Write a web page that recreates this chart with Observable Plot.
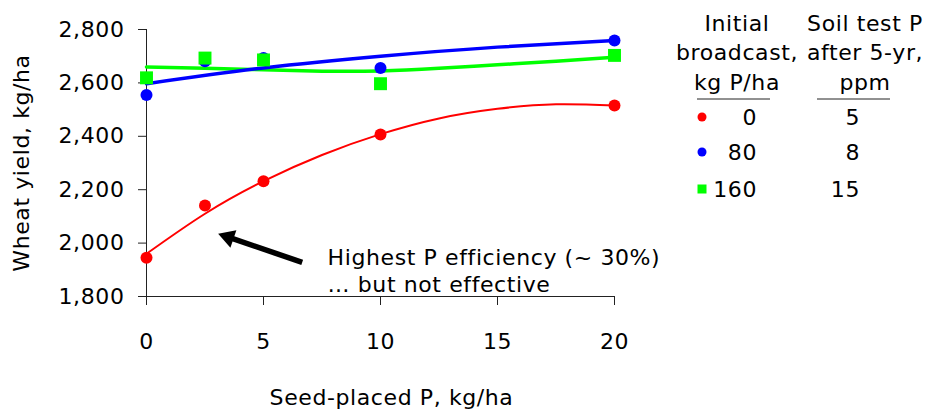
<!DOCTYPE html>
<html>
<head>
<meta charset="utf-8">
<script src="https://cdn.jsdelivr.net/npm/d3@7"></script>
<script src="https://cdn.jsdelivr.net/npm/@observablehq/plot@0.6"></script>
<style>
  body { margin: 0; background: #fff; }
  #wrap { position: relative; width: 932px; height: 413px; overflow: hidden; }
  #legend { position: absolute; left: 0; top: 0; pointer-events: none; }
</style>
</head>
<body>
<div id="wrap"></div>
<script>
// ---- data ----
const seedP = [0, 2.5, 5, 10, 20];
const yield0 = [1945, 2141, 2232, 2407, 2515];
const yield80 = [2555, 2681, 2693, 2656, 2759];
const yield160 = [2619, 2693, 2686, 2597, 2703];

// fitted trend curves
const fitX0 = [0, 2.5, 5, 7.5, 10, 12.5, 15, 17.5, 20];
const fit0 = [1960, 2110, 2232, 2330, 2408, 2467, 2503, 2520, 2515];
const fitX80 = [0, 5, 10, 15, 20];
const fit80 = [2597, 2656, 2700, 2734, 2759];
const fitX160 = [0, 2.5, 5, 7.5, 10, 12.5, 15, 17.5, 20];
const fit160 = [2660, 2655, 2649, 2644, 2645, 2655, 2668, 2681, 2696];

const xTicks = [0, 5, 10, 15, 20];
const yTicks = [1800, 2000, 2200, 2400, 2600, 2800];

const broadcastRates = ["0", "80", "160"];
const soilTestP = ["5", "8", "15"];
const seriesColors = ["#ff0000", "#0000ff", "#00ff00"];

const xLabel = "Seed-placed P, kg/ha";
const yLabel = "Wheat yield, kg/ha";
const noteText = ["Highest P efficiency (~ 30%)", "\u2026 but not effective"];
const noteAt = [{x: 7.74, y: 1901}];
const arrowShaft = [{x1: 6.654, y1: 1928, x2: 3.50, y2: 2022}];
const arrowHead = [{x: 3.496, y: 2022, angle: -71.3}];

// ---- tables ----
const tbl = (xs, ys) => xs.map((x, i) => ({x, y: ys[i]}));

const FONT = "'Comic Sans MS', 'DejaVu Sans', sans-serif";

const chart = Plot.plot({
  width: 932,
  height: 413,
  marginLeft: 146,
  marginRight: 318,
  marginTop: 29,
  marginBottom: 117,
  style: {fontFamily: FONT, fontSize: "22px", letterSpacing: "0.6px", color: "#000", background: "#fff", overflow: "visible"},
  x: {domain: [0, 20]},
  y: {domain: [1800, 2800]},
  marks: [
    Plot.frame({anchor: "left", stroke: "#222"}),
    Plot.frame({anchor: "bottom", stroke: "#222"}),
    Plot.axisY({ticks: yTicks, tickSize: 8, tickPadding: 14, stroke: "#222", tickFormat: d3.format(","),
      label: yLabel, labelAnchor: "center", labelArrow: "none", labelOffset: 133}),
    Plot.axisX({ticks: xTicks, tickSize: 9, tickPadding: 28, stroke: "#222", label: null}),
    Plot.text([xLabel], {frameAnchor: "bottom", dx: 11, dy: 108, lineAnchor: "bottom", text: d => d, fill: "#000"}),
    Plot.line(tbl(fitX160, fit160), {x: "x", y: "y", stroke: seriesColors[2], strokeWidth: 3.5, curve: "natural"}),
    Plot.line(tbl(fitX80, fit80), {x: "x", y: "y", stroke: seriesColors[1], strokeWidth: 3.5, curve: "natural"}),
    Plot.line(tbl(fitX0, fit0), {x: "x", y: "y", stroke: seriesColors[0], strokeWidth: 2, curve: "natural"}),
    Plot.dot(tbl(seedP, yield0), {x: "x", y: "y", fill: seriesColors[0], r: 6}),
    Plot.dot(tbl(seedP, yield80), {x: "x", y: "y", fill: seriesColors[1], r: 6}),
    Plot.dot(tbl(seedP, yield160), {x: "x", y: "y", fill: seriesColors[2], symbol: "square", r: 7.3}),
    Plot.link(arrowShaft, {x1: "x1", y1: "y1", x2: "x2", y2: "y2", stroke: "#000", strokeWidth: 5.5}),
    Plot.dot(arrowHead, {x: "x", y: "y", symbol: "triangle", r: 6.9, rotate: "angle", fill: "#000"}),
    Plot.text(noteAt, {x: "x", y: "y", text: () => noteText.join("\n"), textAnchor: "start", lineAnchor: "middle", lineHeight: 1.27, fill: "#000", fontSize: 22})
  ]
});
document.getElementById("wrap").appendChild(chart);

// ---- legend (table at right) ----
const lg = d3.select("#wrap").append("svg").attr("id", "legend")
  .attr("width", 932).attr("height", 413)
  .style("font-family", FONT).style("font-size", "22px").style("letter-spacing", "0.6px");

const header1 = ["Initial", "broadcast,", "kg P/ha"];
const header2 = ["Soil test P", "after 5-yr,", "ppm"];
const headBase = [31, 59.5, 90];
header1.forEach((t, i) => lg.append("text").attr("x", 737).attr("y", headBase[i]).attr("text-anchor", "middle").text(t));
header2.forEach((t, i) => lg.append("text").attr("x", 865).attr("y", headBase[i]).attr("text-anchor", "middle").text(t));
lg.append("line").attr("x1", 697).attr("x2", 770).attr("y1", 99).attr("y2", 99).attr("stroke", "#222");
lg.append("line").attr("x1", 817).attr("x2", 890).attr("y1", 99).attr("y2", 99).attr("stroke", "#222");

const rowBase = [125, 160, 196.5];
const rowMid = [117, 152, 189];
broadcastRates.forEach((t, i) => {
  lg.append("text").attr("x", 757).attr("y", rowBase[i]).attr("text-anchor", "end").text(t);
  lg.append("text").attr("x", 860).attr("y", rowBase[i]).attr("text-anchor", "end").text(soilTestP[i]);
  if (i < 2) lg.append("circle").attr("cx", 702).attr("cy", rowMid[i]).attr("r", 4.5).attr("fill", seriesColors[i]);
  else lg.append("rect").attr("x", 697.5).attr("y", rowMid[i] - 4.5).attr("width", 9).attr("height", 9).attr("fill", seriesColors[i]);
});
</script>
</body>
</html>
